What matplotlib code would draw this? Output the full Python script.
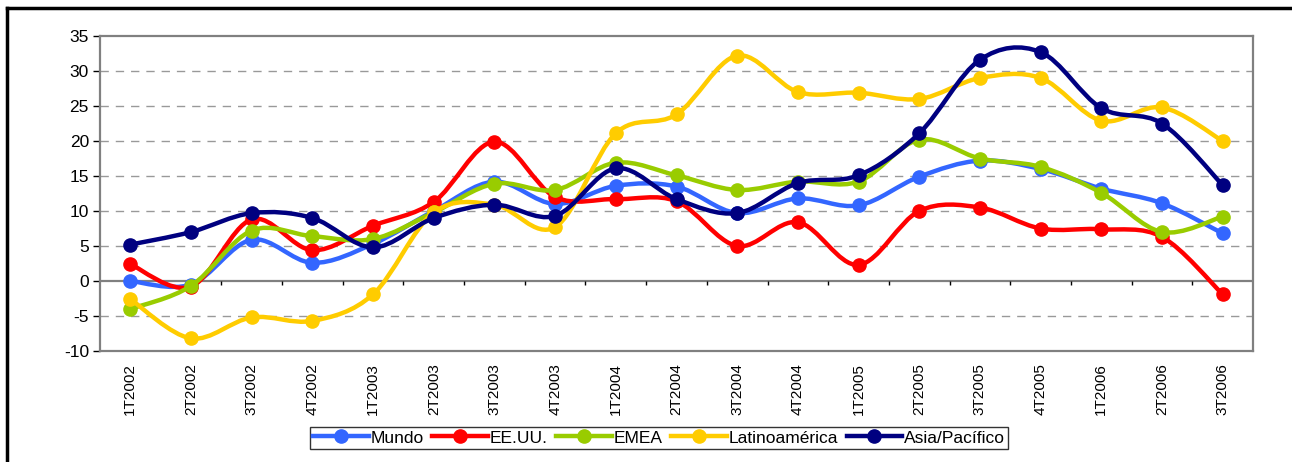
#!/usr/bin/env python3
# -*- coding: utf-8 -*-
"""
plot.py

Quarterly growth by region, Excel-style smoothed line chart
"""

import matplotlib
matplotlib.use("Agg")
import matplotlib.pyplot as plt
from matplotlib.path import Path
from matplotlib.patches import PathPatch
from matplotlib.lines import Line2D

plt.rcParams["font.family"] = ["Liberation Sans", "DejaVu Sans"]
plt.rcParams["axes.unicode_minus"] = False

quarters = ["1T2002", "2T2002", "3T2002", "4T2002", "1T2003", "2T2003",
            "3T2003", "4T2003", "1T2004", "2T2004", "3T2004", "4T2004",
            "1T2005", "2T2005", "3T2005", "4T2005", "1T2006", "2T2006",
            "3T2006"]

mundo = [0.0, -0.5, 5.9, 2.6, 5.3, 10.0, 14.2, 11.0, 13.6, 13.5, 9.7, 11.8,
         10.8, 14.9, 17.2, 16.0, 13.2, 11.1, 6.8]
eeuu = [2.4, -0.8, 8.8, 4.4, 7.9, 11.3, 19.9, 12.0, 11.7, 11.4, 5.0, 8.4,
        2.3, 10.0, 10.5, 7.5, 7.4, 6.3, -1.9]
emea = [-4.0, -0.7, 7.2, 6.4, 6.0, 9.8, 13.9, 13.0, 16.9, 15.1, 13.0, 14.2,
        14.2, 20.2, 17.5, 16.3, 12.6, 7.0, 9.2]
latam = [-2.6, -8.2, -5.2, -5.7, -1.9, 9.8, 10.9, 7.7, 21.1, 23.8, 32.2, 27.0,
         26.9, 26.0, 29.0, 29.0, 22.9, 24.8, 20.0]
asia = [5.2, 7.0, 9.7, 9.0, 4.8, 9.0, 10.9, 9.3, 16.1, 11.7, 9.7, 14.0,
        15.1, 21.1, 31.6, 32.7, 24.7, 22.5, 13.7]

series_names = ["Mundo", "EE.UU.", "EMEA", "Latinoamérica", "Asia/Pacífico"]
series_values = [mundo, eeuu, emea, latam, asia]
colors = ["#3366FF", "#FF0000", "#99CC00", "#FFCC00", "#000080"]


def smooth_path(xs, ys):
    """Bezier path through the points, like Excel's smoothed line"""
    pts = list(zip(xs, ys))
    n = len(pts)
    verts = [pts[0]]
    codes = [Path.MOVETO]
    for i in range(n - 1):
        p0 = pts[max(i - 1, 0)]
        p1 = pts[i]
        p2 = pts[i + 1]
        p3 = pts[min(i + 2, n - 1)]
        c1 = (p1[0] + (p2[0] - p0[0]) / 6, p1[1] + (p2[1] - p0[1]) / 6)
        c2 = (p2[0] - (p3[0] - p1[0]) / 6, p2[1] - (p3[1] - p1[1]) / 6)
        verts += [c1, c2, p2]
        codes += [Path.CURVE4] * 3
    return Path(verts, codes)


W, H = 1292, 462
fig = plt.figure(figsize=(W / 100, H / 100), dpi=100)
ax = fig.add_axes([100 / W, 1 - 351 / H, (1253 - 100) / W, (351 - 36) / H])

x = list(range(len(quarters)))

# Dashed gridlines and zero axis line
for yv in [-5, 5, 10, 15, 20, 25, 30]:
    ax.axhline(yv, color="#999999", lw=1, ls=(0, (6, 5)), zorder=0)
ax.axhline(0, color="#808080", lw=1.6, zorder=1)
ax.vlines([k + 0.5 for k in x[:-1]], 0, -0.6, color="black", lw=1, zorder=1)

for k, (name, vals, col) in enumerate(zip(series_names, series_values, colors)):
    patch = PathPatch(smooth_path(x, vals), fill=False, edgecolor=col,
                      lw=3.2, capstyle="round", joinstyle="round",
                      zorder=2 + 2 * k)
    ax.add_patch(patch)
    ax.plot(x, vals, "o", color=col, markersize=9.5, zorder=3 + 2 * k)

ax.set_xlim(-0.5, len(quarters) - 0.5)
ax.set_ylim(-10, 35)
ax.set_yticks(range(-10, 36, 5))
ax.set_xticks(x)
ax.set_xticklabels(quarters, rotation=90, fontsize=11)
ax.tick_params(axis="x", length=0, pad=9)
ax.tick_params(axis="y", length=5, width=1, color="black", labelsize=12.5,
               pad=3)

for sp in ax.spines.values():
    sp.set_color("#808080")
    sp.set_linewidth(1.6)

handles = [Line2D([], [], color=c, lw=3.2, marker="o", markersize=9.5)
           for c in colors]
leg = fig.legend(handles, series_names, loc="center", ncol=5,
                 bbox_to_anchor=(659 / W, 1 - 438 / H), fontsize=12.5,
                 frameon=True, fancybox=False, edgecolor="black",
                 handlelength=3.2, handletextpad=0.1, columnspacing=0.5,
                 borderpad=0.2, borderaxespad=0)
leg.get_frame().set_linewidth(1.0)

# Outer chart frame (visible on left and top)
fig.add_artist(Line2D([7 / W, 7 / W], [0, 1 - 8 / H], color="black", lw=2.5,
                      transform=fig.transFigure))
fig.add_artist(Line2D([7 / W, 1], [1 - 8 / H, 1 - 8 / H], color="black",
                      lw=2.5, transform=fig.transFigure))

fig.savefig("out.png", dpi=100)
